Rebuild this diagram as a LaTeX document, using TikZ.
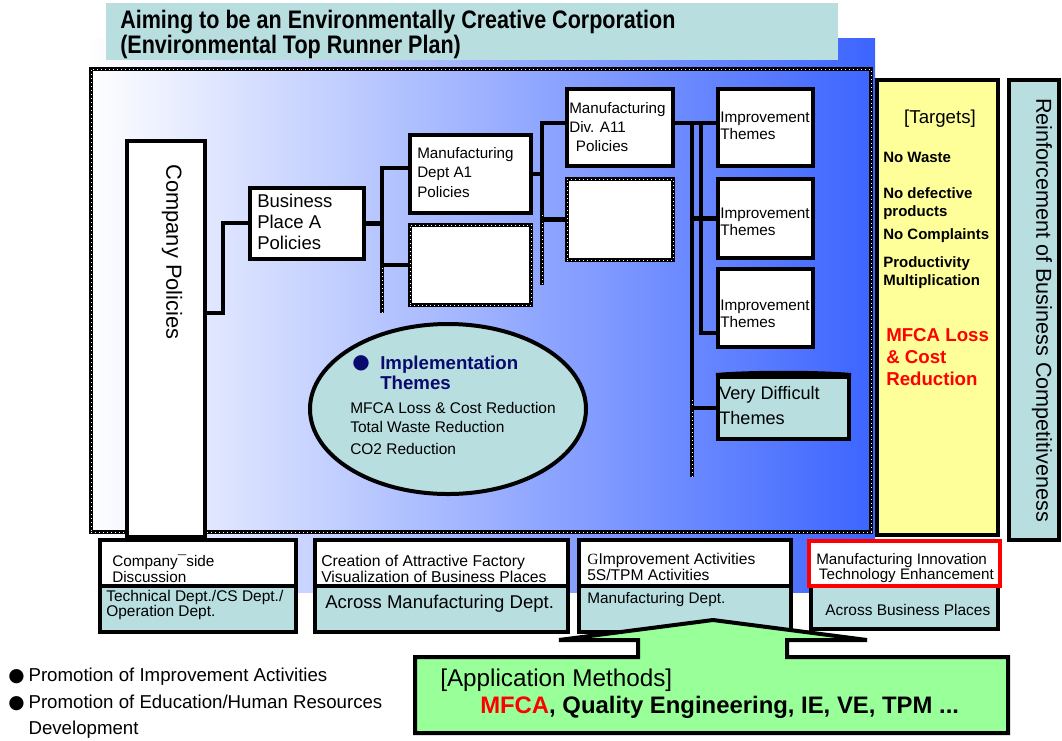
\documentclass[tikz,border=0pt]{standalone}
\usepackage{fontspec}
\setmainfont{Liberation Sans}
\newfontfamily\titlefont[FakeStretch=0.85]{Liberation Sans}
\newfontfamily\serifG{Liberation Serif}
\newfontfamily\dotfont{DejaVu Sans}
\usetikzlibrary{shapes.geometric}

\definecolor{tealbox}{RGB}{184,222,224}
\definecolor{padyellow}{RGB}{255,255,153}
\definecolor{methgreen}{RGB}{153,255,153}
\definecolor{navytxt}{RGB}{10,10,110}
\definecolor{gradblue}{RGB}{60,100,255}
\definecolor{gradmid}{RGB}{180,188,255}

\newcommand{\fsz}[2]{\fontsize{#1}{#2}\selectfont}

\tikzset{
	pbox/.style={draw, line width=3pt, fill=white, inner sep=0pt},
	sz/.style 2 args={minimum width=#1*0.75pt, minimum height=#2*0.75pt},
	link/.style={line width=3.5pt, line cap=rect},
	dashedge/.style={draw=black, line width=3.4pt, postaction={draw=white, line width=0.3pt, dash pattern=on 0.6pt off 2.4pt}},
	txt/.style={inner sep=0pt, anchor=west, align=left},
}

\begin{document}
\begin{tikzpicture}[x=0.75pt, y=-0.75pt]
	\useasboundingbox (0,0) rectangle (1062,740);
	
	% Background shading and headline
	\shade[left color=white, middle color=gradmid, right color=gradblue] (88,38) rectangle (875,592);
	\node[fill=tealbox, sz={732}{57}, inner sep=0pt] (head) at (472,31.5) {};
	\node[txt, font=\titlefont\bfseries\fsz{19}{18.75}] (headtxt) at (120,34.5)
		{Aiming to be an Environmentally Creative Corporation\\(Environmental Top Runner Plan)};
	
	% Policy frame
	\node[dashedge, sz={780}{463}] (frame) at (481,300.5) {};
	
	% Bracket bars
	\coordinate (k1t) at (223,223); \coordinate (k1b) at (223,313);
	\coordinate (k2t) at (382,168); \coordinate (k2m) at (382,268); \coordinate (k2b) at (382,313);
	\coordinate (k3t) at (542,123); \coordinate (k3m) at (542,215); \coordinate (k3b) at (542,285);
	\coordinate (k4t) at (692,123); \coordinate (k4m) at (692,400); \coordinate (k4b) at (692,477);
	\coordinate (k5t) at (701,123); \coordinate (k5b) at (701,333);
	
	% Policy boxes
	\node[pbox, sz={78}{396}] (cp) at (166,339) {};
	\node[rotate=-90, inner sep=0pt, font=\fsz{16.4}{19}] (cptxt) at (172,252) {Company Policies};
	\node[pbox, sz={114}{71}] (bpa) at (307,223.5) {};
	\node[txt, font=\fsz{13.9}{15.75}] (bpatxt) at (257,222) {Business\\Place A\\Policies};
	\node[pbox, sz={121}{78}] (dA1) at (470.5,174) {};
	\node[txt, font=\fsz{11.4}{14.6}] (dA1txt) at (417,172.5) {Manufacturing\\Dept A1\\Policies};
	\node[pbox, dashedge, sz={121}{80}] (dA1x) at (470.5,265) {};
	\node[pbox, sz={106}{77}] (dA11) at (620,127.5) {};
	\node[txt, font=\fsz{11.4}{14.3}] (dA11txt) at (569,127) {Manufacturing\\Div. A11\\\hspace{5pt}Policies};
	\node[pbox, dashedge, sz={106}{81}] (dA11x) at (620,219.5) {};
	
	% Improvement themes
	\foreach \i/\cy/\h/\ty in {1/127.5/77/125.5, 2/218.5/79/222, 3/308/78/314} {
		\node[pbox, sz={95}{\h}] (it\i) at (765.5,\cy) {};
		\node[txt, font=\fsz{11.5}{12.8}] (ittxt\i) at (720,\ty) {Improvement\\Themes};
	}
	\node[pbox, fill=tealbox, sz={131}{62}] (vdt) at (783.5,408) {};
	\draw[line width=3pt, fill=black] (vdt.north west) .. controls (750,372) and (817,372) .. (vdt.north east) -- cycle;
	\node[txt, font=\fsz{13.6}{18.75}] (vdttxt) at (719,406) {Very Difficult\\Themes};
	
	% Connectors
	\draw[link] (cp.east |- k1b) -- (k1b) -- (k1t) -- (bpa.west |- k1t);
	\draw[link] (bpa.east) -- (bpa.east -| k2t);
	\draw[link] (k2t) -- (k2m);
	\draw[dashedge, line width=3.5pt] (k2m) -- (k2b);
	\draw[link] (k2t) -- (dA1.west |- k2t);
	\draw[link] (dA1x.west -| k2t) -- (dA1x.west);
	\draw[link] (dA1.east) -- (dA1.east -| k3t);
	\draw[link] (k3t) -- (k3m);
	\draw[dashedge, line width=3.5pt] (k3m) -- (k3b);
	\draw[link] (k3t) -- (dA11.west |- k3t);
	\draw[link] (dA11x.west -| k3t) -- (dA11x.west);
	\draw[link] (dA11.east |- k4t) -- (it1.west |- k4t);
	\draw[link] (k4t) -- (k4m);
	\draw[dashedge, line width=3.5pt] (k4m) -- (k4b);
	\draw[link] (k5t) -- (k5b) -- (it3.west |- k5b);
	\draw[link] (it2.west -| k4t) -- (it2.west);
	\draw[link] (vdt.west -| k4t) -- (vdt.west);
	
	% Implementation themes
	\node[ellipse, draw, line width=3pt, fill=tealbox, sz={276}{170}, inner sep=0pt] (ell) at (448,409) {};
	\node[inner sep=0pt, text=navytxt, font=\dotfont\fsz{15}{15}] (bul) at (361,363) {●};
	\node[txt, text=navytxt, font=\bfseries\fsz{14}{15}] (impl) at (380,373) {Implementation\\Themes};
	\node[txt, font=\fsz{11.6}{14.25}] (ithemes) at (350,428.5)
		{MFCA Loss \& Cost Reduction\\Total Waste Reduction\\[2.5pt]CO2 Reduction};
	
	% Targets and competitiveness
	\node[pbox, fill=padyellow, sz={121}{455}] (tgt) at (937.5,307.5) {};
	\node[inner sep=0pt, font=\fsz{14}{16}] (tgthead) at (940,119) {[Targets]};
	\node[txt, font=\bfseries\fsz{11.25}{13.5}] (tg1) at (883,157) {No Waste};
	\node[txt, font=\bfseries\fsz{11.25}{13.5}] (tg2) at (883,204) {No defective\\products};
	\node[txt, font=\bfseries\fsz{11.25}{13.5}] (tg3) at (883,236) {No Complaints};
	\node[txt, font=\bfseries\fsz{11.25}{13.5}] (tg4) at (883,273) {Productivity\\Multiplication};
	\node[txt, text=red, font=\bfseries\fsz{14}{16.5}] (tg5) at (886,357) {MFCA Loss\\\& Cost\\Reduction};
	\node[pbox, fill=tealbox, sz={50}{460}] (reinf) at (1034,310) {};
	\node[rotate=-90, inner sep=0pt, font=\fsz{16.2}{19}] (reinftxt) at (1042,310)
		{Reinforcement of Business Competitiveness};
	
	% Activity boxes
	\foreach \nm/\cx/\w in {a/198/196, b/441.5/253, c/685/212} {
		\node[pbox, fill=tealbox, sz={\w}{46}] (bot-\nm) at (\cx,608.5) {};
		\node[pbox, sz={\w}{46}] (top-\nm) at (\cx,563) {};
	}
	\node[pbox, fill=tealbox, sz={187}{43}] (bot-d) at (904.5,607.5) {};
	\node[pbox, draw=red, sz={191}{45}] (top-d) at (904.5,563.5) {};
	\node[txt, font=\fsz{11.5}{10.5}] (txa1) at (112,569) {Company¯side\\Discussion};
	\node[txt, font=\fsz{11.6}{10.5}] (txa2) at (106,605) {Technical Dept./CS Dept./\\Operation Dept.};
	\node[txt, font=\fsz{11.8}{10.5}] (txb1) at (321,569) {Creation of Attractive Factory\\Visualization of Business Places};
	\node[txt, font=\fsz{13.9}{16}] (txb2) at (325,604) {Across Manufacturing Dept.};
	\node[txt, font=\fsz{11.7}{12}] (txc1) at (587,567) {{\serifG G}Improvement Activities\\5S/TPM Activities};
	\node[txt, font=\fsz{11.5}{13}] (txc2) at (587,600) {Manufacturing Dept.};
	\node[txt, font=\fsz{11.4}{11.25}] (txd1) at (816,568.5) {Manufacturing Innovation\\\hspace{2pt}Technology Enhancement};
	\node[txt, font=\fsz{11.6}{13}] (txd2) at (825,610) {Across Business Places};
	
	% Application methods
	\draw[line width=3pt, fill=methgreen] (415,657) -- (638,657) -- (638,640) -- (559,640) -- (713,620)
		-- (867,640) -- (787,640) -- (787,657) -- (1008,657) -- (1008,733) -- (415,733) -- cycle;
	\node[txt, font=\fsz{18.2}{20}] (meth1) at (440,680) {[Application Methods]};
	\node[txt, font=\bfseries\fsz{17.9}{20}] (meth2) at (480,707)
		{\textcolor{red}{MFCA}, Quality Engineering, IE, VE, TPM ...};
	
	% Promotion items
	\node[txt, font=\fsz{14}{19.5}] (prom1) at (8,677) {{\dotfont●}\hspace{3pt}Promotion of Improvement Activities};
	\node[txt, font=\fsz{14}{19.5}] (prom2) at (8,717)
		{{\dotfont●}\hspace{3pt}Promotion of Education/Human Resources\\\hphantom{{\dotfont●}\hspace{3pt}}Development};
	
\end{tikzpicture}
\end{document}
